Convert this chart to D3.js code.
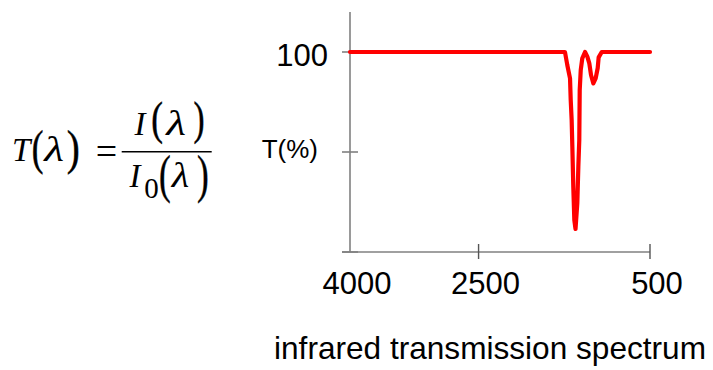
<!DOCTYPE html>
<html>
<head>
<meta charset="utf-8">
<script src="https://cdn.jsdelivr.net/npm/d3@7"></script>
<style>
  html, body { margin: 0; padding: 0; background: #fff; }
  svg { display: block; }
</style>
</head>
<body>
<svg id="chart" width="713" height="370"></svg>
<script>
// ---- data ----
const wavenumbers = [4000, 1492, 1465, 1433, 1425, 1414, 1406, 1395, 1383, 1369, 1348, 1336, 1325, 1320, 1308, 1290, 1258, 1231, 1208, 1188, 1161, 1134, 1110, 1099, 1063, 500];
const transmission = [100, 100, 93.5, 86.8, 76, 66, 52.7, 32.7, 16, 11.5, 24.5, 42.7, 56, 81, 91, 96.8, 100, 97.7, 94.3, 88.5, 84.3, 86.8, 92, 97.3, 100, 100];
const xTickValues = [4000, 2500, 500];
const xTickLabels = ["4000", "2500", "500"];
const yTickValues = [0, 50, 100];
const yLabelValue = 100;
const yLabelText = "100";
const yTitle = "T(%)";
const caption = "infrared transmission spectrum";

const svg = d3.select("#chart");
const x = d3.scaleLinear().domain([4000, 500]).range([350, 650]);
const y = d3.scaleLinear().domain([0, 120]).range([252, 12]);
const axisColor = "#808080";
const sans = "'Liberation Sans', Arial, sans-serif";
const serif = "'Liberation Serif', 'Times New Roman', serif";

// ---- axes ----
svg.append("line")
  .attr("x1", x(4000)).attr("x2", x(4000))
  .attr("y1", y(120)).attr("y2", y(0))
  .attr("stroke", axisColor).attr("stroke-width", 1.6);
svg.append("line")
  .attr("x1", x(4000) - 8).attr("x2", x(500))
  .attr("y1", y(0)).attr("y2", y(0))
  .attr("stroke", axisColor).attr("stroke-width", 1.6);

svg.selectAll(".ytick").data(yTickValues).enter().append("line")
  .attr("x1", x(4000) - 8).attr("x2", x(4000) + 8)
  .attr("y1", d => y(d)).attr("y2", d => y(d))
  .attr("stroke", axisColor).attr("stroke-width", 1.6);

svg.selectAll(".xtick").data(xTickValues.filter(d => d !== 4000)).enter().append("line")
  .attr("x1", d => x(d)).attr("x2", d => x(d))
  .attr("y1", y(0) - 8).attr("y2", y(0) + 7)
  .attr("stroke", "#555").attr("stroke-width", 1.4);

// ---- tick labels ----
svg.selectAll(".xlab").data(xTickValues).enter().append("text")
  .attr("x", d => x(d) + 7)
  .attr("y", y(0) + 42)
  .attr("text-anchor", "middle")
  .attr("font-family", sans).attr("font-size", 31)
  .attr("fill", "#000")
  .text((d, i) => xTickLabels[i]);

svg.append("text")
  .attr("x", x(4000) - 22).attr("y", y(yLabelValue) + 14)
  .attr("text-anchor", "end")
  .attr("font-family", sans).attr("font-size", 31)
  .text(yLabelText);

svg.append("text")
  .attr("x", x(4000) - 32).attr("y", y(50) + 6)
  .attr("text-anchor", "end")
  .attr("font-family", sans).attr("font-size", 26)
  .text(yTitle);

svg.append("text")
  .attr("x", 490).attr("y", 359)
  .attr("text-anchor", "middle")
  .attr("font-family", sans).attr("font-size", 31.6)
  .text(caption);

// ---- data line ----
const pts = wavenumbers.map((w, i) => [w, transmission[i]]);
svg.append("path")
  .datum(pts)
  .attr("d", d3.line().x(d => x(d[0])).y(d => y(d[1])))
  .attr("fill", "none")
  .attr("stroke", "#ff0000")
  .attr("stroke-width", 4.2)
  .attr("stroke-linejoin", "round")
  .attr("stroke-linecap", "round");

// ---- equation ----
const eq = svg.append("g");
function glyph(cx, base, size, txt, italic, anchor, sx) {
  const t = eq.append("text")
    .attr("text-anchor", anchor || "middle")
    .attr("font-family", serif)
    .attr("font-size", size)
    .attr("font-style", italic ? "italic" : "normal")
    .text(txt);
  if (sx) {
    t.attr("transform", `translate(${cx},${base}) scale(${sx},1)`).attr("x", 0).attr("y", 0);
  } else {
    t.attr("x", cx).attr("y", base);
  }
}
function paren(xl, yTop, yBot, w, ch) {
  const fs = (yBot - yTop) / 0.853;
  const base = yBot - 0.177 * fs;
  const lb = (ch === "(" ? 0.048 : 0.029) * fs;
  const sx = w / (0.256 * fs);
  eq.append("text")
    .attr("transform", `translate(${xl},${base}) scale(${sx},1)`)
    .attr("x", -lb).attr("y", 0)
    .attr("font-family", serif)
    .attr("font-size", fs)
    .attr("stroke", "#000").attr("stroke-width", 0.5)
    .text(ch);
}
// T(λ)
glyph(12, 160.7, 33, "T", true, "start");
paren(33.5, 131.7, 172.7, 9, "(");
glyph(54, 160.5, 35, "λ", true, "middle", 1.3);
paren(68, 131.7, 172.7, 10, ")");
// =
glyph(106.5, 164, 38, "=", false);
// fraction bar
eq.append("line")
  .attr("x1", 121.7).attr("x2", 211.7)
  .attr("y1", 151.7).attr("y2", 151.7)
  .attr("stroke", "#000").attr("stroke-width", 1.6);
// numerator I(λ)
glyph(140, 135, 33, "I", true);
paren(153, 103, 142.7, 9, "(");
glyph(176, 135, 35, "λ", true, "middle", 1.3);
paren(194.5, 103, 142.7, 8.5, ")");
// denominator I0(λ)
glyph(135, 186.7, 33, "I", true);
glyph(151.5, 198, 29, "0", false);
paren(160.8, 156.7, 201.7, 9, "(");
glyph(180.5, 187, 35, "λ", true, "middle", 1.15);
paren(198, 156.7, 201.7, 9, ")");
</script>
</body>
</html>
